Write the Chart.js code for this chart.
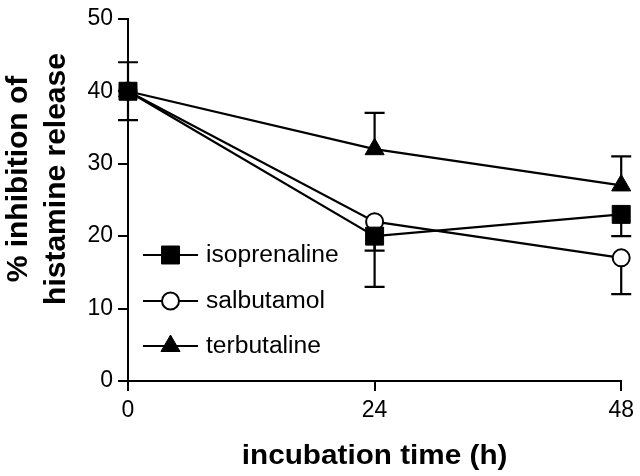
<!DOCTYPE html>
<html>
<head>
<meta charset="utf-8">
<script src="https://cdn.jsdelivr.net/npm/chart.js@4.4.1/dist/chart.umd.min.js"></script>
<style>
  html, body { margin: 0; padding: 0; background: #ffffff; }
  #wrap { width: 640px; height: 476px; }
</style>
</head>
<body>
<div id="wrap"><canvas id="c" width="640" height="476"></canvas></div>
<script>
// ---- data ----
const times = [0, 24, 48];
const xTickValues = [0, 24, 48];
const yTickValues = [0, 10, 20, 30, 40, 50];
const seriesNames = ['isoprenaline', 'salbutamol', 'terbutaline'];
const isoprenaline = [40, 20, 23];
const salbutamol = [40, 22, 17];
const terbutaline = [40, 32, 27];
const isoprenalineErrUp = [0, 0, 0];
const isoprenalineErrDown = [4, 7, 3];
const salbutamolErrUp = [0, 0, 0];
const salbutamolErrDown = [0, 4, 5];
const terbutalineErrUp = [4, 5, 4];
const terbutalineErrDown = [0, 0, 0];
const xTitle = 'incubation time (h)';
const yTitleLines = ['% inhibition of', 'histamine release'];

const FONT = '"Liberation Sans", Arial, Helvetica, sans-serif';

function pts(vals) { return times.map((t, i) => ({ x: t, y: vals[i] })); }

const datasets = [
  { label: seriesNames[0], data: pts(isoprenaline), errUp: isoprenalineErrUp, errDown: isoprenalineErrDown,
    pointStyle: 'rect', pointRadius: 12.7, pointBackgroundColor: '#000', pointBorderColor: '#000', pointBorderWidth: 1 },
  { label: seriesNames[1], data: pts(salbutamol), errUp: salbutamolErrUp, errDown: salbutamolErrDown,
    pointStyle: 'circle', pointRadius: 8.5, pointBackgroundColor: '#fff', pointBorderColor: '#000', pointBorderWidth: 2 },
  { label: seriesNames[2], data: pts(terbutaline), errUp: terbutalineErrUp, errDown: terbutalineErrDown,
    pointStyle: 'triangle', pointRadius: 11, pointBackgroundColor: '#000', pointBorderColor: '#000', pointBorderWidth: 1 }
].map(d => Object.assign(d, { borderColor: '#000', borderWidth: 2.2, tension: 0, clip: false, fill: false }));

const errorBars = {
  id: 'errorBars',
  beforeDatasetsDraw(chart) {
    const ctx = chart.ctx, xs = chart.scales.x, ys = chart.scales.y;
    ctx.save();
    ctx.strokeStyle = '#000';
    ctx.lineWidth = 2.2;
    chart.data.datasets.forEach(ds => {
      ds.data.forEach((p, i) => {
        const x = xs.getPixelForValue(p.x);
        const y = ys.getPixelForValue(p.y);
        [[ds.errUp[i], 1], [ds.errDown[i], -1]].forEach(([e, s]) => {
          if (!e) return;
          const ye = ys.getPixelForValue(p.y + s * e);
          ctx.beginPath();
          ctx.moveTo(x, y); ctx.lineTo(x, ye);
          ctx.moveTo(x - 10, ye); ctx.lineTo(x + 10, ye);
          ctx.stroke();
        });
      });
    });
    ctx.restore();
  }
};

function stretchedText(ctx, text, x, y, sx) {
  ctx.save();
  ctx.translate(x, y);
  ctx.scale(sx, 1);
  ctx.fillText(text, 0, 0);
  ctx.restore();
}

const decorations = {
  id: 'decorations',
  afterDraw(chart) {
    const ctx = chart.ctx, a = chart.chartArea;
    ctx.save();
    ctx.fillStyle = '#000';
    // x axis title
    ctx.font = 'bold 27px ' + FONT;
    ctx.textAlign = 'center';
    ctx.textBaseline = 'alphabetic';
    stretchedText(ctx, xTitle, (a.left + a.right) / 2, 464, 1.1);
    // y axis title (two lines, rotated)
    ctx.font = 'bold 30px ' + FONT;
    const cy = 179;
    [27, 65].forEach((bx, i) => {
      ctx.save();
      ctx.translate(bx, cy);
      ctx.rotate(-Math.PI / 2);
      ctx.textAlign = 'center';
      ctx.textBaseline = 'alphabetic';
      ctx.fillText(yTitleLines[i], 0, 0);
      ctx.restore();
    });
    // legend
    const rowsY = [a.bottom - 126, a.bottom - 80, a.bottom - 35];
    chart.data.datasets.forEach((ds, i) => {
      const y = rowsY[i];
      const x0 = a.left + 15, x1 = a.left + 70, xm = (x0 + x1) / 2;
      ctx.strokeStyle = '#000';
      ctx.lineWidth = 2;
      ctx.beginPath(); ctx.moveTo(x0, y); ctx.lineTo(x1, y); ctx.stroke();
      ctx.fillStyle = ds.pointBackgroundColor;
      ctx.strokeStyle = ds.pointBorderColor;
      ctx.lineWidth = ds.pointBorderWidth;
      Chart.helpers.drawPoint(ctx, { pointStyle: ds.pointStyle, radius: ds.pointRadius, borderWidth: ds.pointBorderWidth, rotation: 0 }, xm, y);
      ctx.fillStyle = '#000';
      ctx.font = '23px ' + FONT;
      ctx.textAlign = 'left';
      ctx.textBaseline = 'middle';
      stretchedText(ctx, ds.label, a.left + 78, y + 1, 1.07);
    });
    ctx.restore();
  }
};

new Chart(document.getElementById('c'), {
  type: 'line',
  data: { datasets },
  options: {
    responsive: false,
    animation: false,
    events: [],
    layout: { padding: { top: 15, right: 18, left: 0, bottom: 0 } },
    plugins: { legend: { display: false }, tooltip: { enabled: false } },
    scales: {
      x: {
        type: 'linear', min: 0, max: 48,
        afterBuildTicks(s) { s.ticks = xTickValues.map(v => ({ value: v })); },
        afterFit(s) { s.height = 95; },
        grid: { drawOnChartArea: false, drawTicks: true, tickLength: 10, color: '#000', lineWidth: 2 },
        border: { display: true, color: '#000', width: 2 },
        ticks: { color: '#000', padding: 6, maxRotation: 0, font: { family: FONT, size: 23 } }
      },
      y: {
        type: 'linear', min: 0, max: 50,
        afterBuildTicks(s) { s.ticks = yTickValues.map(v => ({ value: v })); },
        afterFit(s) { s.width = 128; },
        grid: { drawOnChartArea: false, drawTicks: true, tickLength: 10, color: '#000', lineWidth: 2 },
        border: { display: true, color: '#000', width: 2 },
        ticks: { color: '#000', padding: 5, font: { family: FONT, size: 23 } }
      }
    }
  },
  plugins: [errorBars, decorations]
});
</script>
</body>
</html>
